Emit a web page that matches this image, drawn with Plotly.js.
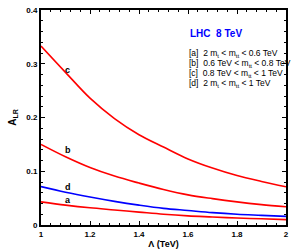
<!DOCTYPE html>
<html><head><meta charset="utf-8">
<script src="https://cdn.plot.ly/plotly-3.0.1.min.js"></script>
<style>html,body{margin:0;padding:0;background:#fff}</style>
</head><body><div id="chart" style="width:301px;height:252px"></div>
<script>
const lambda = [1.0, 1.1, 1.2, 1.3, 1.4, 1.5, 1.6, 1.7, 1.8, 1.9, 2.0];
const seriesA = [0.043, 0.037, 0.032, 0.028, 0.024, 0.020, 0.017, 0.015, 0.013, 0.0115, 0.010];
const seriesB = [0.150, 0.127, 0.107, 0.091, 0.078, 0.066, 0.056, 0.049, 0.043, 0.038, 0.034];
const seriesC = [0.333, 0.284, 0.236, 0.198, 0.168, 0.145, 0.123, 0.106, 0.092, 0.081, 0.071];
const seriesD = [0.0715, 0.061, 0.052, 0.044, 0.037, 0.031, 0.027, 0.023, 0.020, 0.018, 0.016];
const curveLabels = ['a', 'b', 'c', 'd'];
const curveLabelPos = [[1.11, 0.046], [1.11, 0.139], [1.11, 0.289], [1.11, 0.070]];
const legendTitle = 'LHC  8 TeV';
const legendLines = [
  '[a]  2 m<sub>t</sub> &lt; m<sub>tt</sub> &lt; 0.6 TeV',
  '[b]  0.6 TeV &lt; m<sub>tt</sub> &lt; 0.8 TeV',
  '[c]  0.8 TeV &lt; m<sub>tt</sub> &lt; 1 TeV',
  '[d]  2 m<sub>t</sub> &lt; m<sub>tt</sub> &lt; 1 TeV'
];
const legendY = [0.319, 0.300, 0.282, 0.264];

const F = 'Liberation Sans, Arial, sans-serif';
const mk = (y, color) => ({x: lambda, y: y, type: 'scatter', mode: 'lines', line: {color: color, width: 1.6, shape: 'spline'}, hoverinfo: 'none'});
const traces = [mk(seriesA, '#ff0000'), mk(seriesB, '#ff0000'), mk(seriesC, '#ff0000'), mk(seriesD, '#0000ff')];

const ann = [];
curveLabels.forEach((t, i) => ann.push({x: curveLabelPos[i][0], y: curveLabelPos[i][1], xref: 'x', yref: 'y', text: '<b>' + t + '</b>', showarrow: false, font: {family: F, size: 9, color: '#000'}, xanchor: 'center', yanchor: 'middle'}));
ann.push({x: 1.598, y: 0.357, xref: 'x', yref: 'y', text: '<b>' + legendTitle + '</b>', showarrow: false, font: {family: F, size: 10, color: '#0000ff'}, xanchor: 'left', yanchor: 'middle'});
legendLines.forEach((t, i) => ann.push({x: 1.596, y: legendY[i], xref: 'x', yref: 'y', text: t, showarrow: false, font: {family: F, size: 8.5, color: '#000'}, xanchor: 'left', yanchor: 'middle'}));

const axBase = {showgrid: false, zeroline: false, showline: true, linecolor: '#000', linewidth: 2, mirror: 'allticks', ticks: 'inside', ticklen: 4, tickwidth: 1, tickcolor: '#000', tickfont: {family: F, size: 8, color: '#000', weight: 'bold'}};
const layout = {
  width: 301, height: 252,
  margin: {l: 41, r: 15, t: 10, b: 27},
  paper_bgcolor: '#fff', plot_bgcolor: '#fff',
  showlegend: false,
  xaxis: Object.assign({}, axBase, {range: [1, 2], dtick: 0.2, tick0: 1,
    minor: {dtick: 0.04, ticks: 'inside', ticklen: 2, tickcolor: '#000', tickwidth: 1},
    title: {text: '<b>Λ (TeV)</b>', font: {family: F, size: 9, color: '#000'}, standoff: 3}}),
  yaxis: Object.assign({}, axBase, {range: [0, 0.4], dtick: 0.1, tick0: 0,
    minor: {dtick: 0.02, ticks: 'inside', ticklen: 2, tickcolor: '#000', tickwidth: 1},
    title: {text: '<b>A<sub>LR</sub></b>', font: {family: F, size: 10, color: '#000'}, standoff: 8}}),
  annotations: ann
};
Plotly.newPlot('chart', traces, layout, {displayModeBar: false, staticPlot: true});
</script></body></html>
